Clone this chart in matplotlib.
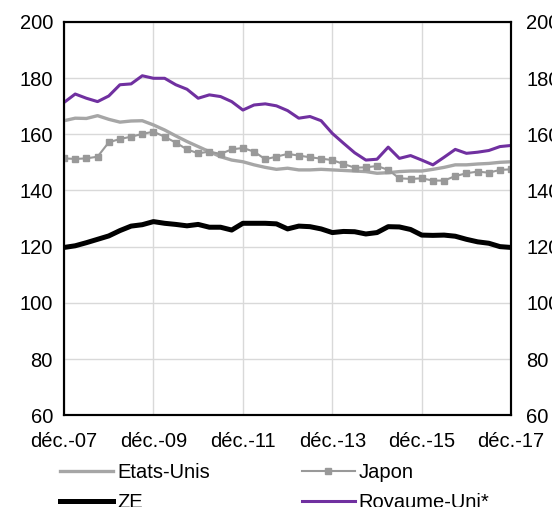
import matplotlib
matplotlib.use("Agg")
import matplotlib.pyplot as plt
import numpy as np

plt.rcParams['font.family'] = ['Liberation Sans', 'DejaVu Sans']

# quarterly values, déc.-07 .. déc.-17
tick_labels = ["déc.-07", "déc.-09", "déc.-11", "déc.-13", "déc.-15", "déc.-17"]

etats_unis = [164.8, 165.7, 165.6, 166.6, 165.3, 164.3, 164.7, 164.8, 163.3, 161.5,
              159.4, 157.4, 155.6, 153.8, 152.0, 150.8, 150.2, 149.1, 148.2, 147.5,
              147.9, 147.3, 147.3, 147.5, 147.3, 147.1, 146.9, 146.7, 146.1, 146.3,
              146.7, 146.9, 146.9, 147.5, 148.2, 149.1, 149.1, 149.4, 149.6, 150.0, 150.2]

japon = [151.4, 151.2, 151.4, 152.0, 157.1, 158.3, 159.1, 160.1, 160.9, 159.1,
         157.0, 154.6, 153.2, 153.8, 153.0, 154.6, 155.1, 153.8, 151.1, 152.0,
         153.0, 152.4, 151.8, 151.3, 150.8, 149.4, 148.1, 148.2, 148.7, 147.3,
         144.3, 144.1, 144.3, 143.5, 143.5, 145.1, 146.1, 146.7, 146.3, 147.3, 147.5]

ze = [119.7, 120.3, 121.4, 122.6, 123.8, 125.7, 127.3, 127.8, 128.9, 128.3,
      127.9, 127.4, 127.9, 126.9, 126.9, 125.9, 128.3, 128.3, 128.3, 128.1,
      126.3, 127.3, 127.1, 126.3, 125.0, 125.4, 125.3, 124.5, 125.0, 127.1,
      127.0, 126.1, 124.1, 124.0, 124.1, 123.7, 122.6, 121.7, 121.2, 120.0, 119.7]

royaume_uni = [171.3, 174.3, 172.8, 171.6, 173.6, 177.6, 177.9, 180.8, 179.9, 179.9,
               177.6, 176.0, 172.8, 174.0, 173.4, 171.6, 168.6, 170.4, 170.8, 170.1,
               168.4, 165.7, 166.3, 164.8, 160.3, 156.8, 153.4, 150.8, 151.1, 155.4,
               151.4, 152.4, 150.8, 149.1, 151.8, 154.6, 153.2, 153.6, 154.2, 155.6, 156.0]

x = np.arange(len(ze))

fig = plt.figure(figsize=(5.52, 5.07), dpi=100)
ax = fig.add_axes([0.116, 0.181, 0.810, 0.776])

l_us, = ax.plot(x, etats_unis, color="#A6A6A6", lw=2.4, label="Etats-Unis", zorder=3)
l_jp, = ax.plot(x, japon, color="#999999", lw=1.5, marker="s", markersize=4.5, label="Japon", zorder=4)
l_ze, = ax.plot(x, ze, color="black", lw=3.6, label="ZE", zorder=5)
l_uk, = ax.plot(x, royaume_uni, color="#7030A0", lw=2.2, label="Royaume-Uni*", zorder=6)

ax.set_xlim(0, 40)
ax.set_ylim(60, 200)
ax.set_yticks(np.arange(60, 201, 20))
ax.set_xticks(np.arange(0, 41, 8))
ax.set_xticklabels(tick_labels)
ax.grid(True, color="#D9D9D9", lw=1)
ax.set_axisbelow(True)
ax.tick_params(length=0, labelsize=14.5, pad=8)
ax.tick_params(axis="x", pad=12)
for s in ax.spines.values():
    s.set_linewidth(1.5)
    s.set_color("black")

ax2 = ax.twinx()
ax2.set_ylim(60, 200)
ax2.set_yticks(np.arange(60, 201, 20))
ax2.tick_params(length=0, labelsize=14.5, pad=11)
for s in ax2.spines.values():
    s.set_linewidth(1.5)

# Excel-like row order: Etats-Unis, Japon / ZE, Royaume-Uni*
handles = [l_us, l_ze, l_jp, l_uk]
fig.legend(handles, [h.get_label() for h in handles],
           loc="upper left", bbox_to_anchor=(0.095, 0.103), ncol=2, frameon=False,
           fontsize=14.5, handlelength=2.6, handletextpad=0.2, columnspacing=4.6,
           labelspacing=0.55, borderaxespad=0)

fig.savefig("out.png", dpi=100)
